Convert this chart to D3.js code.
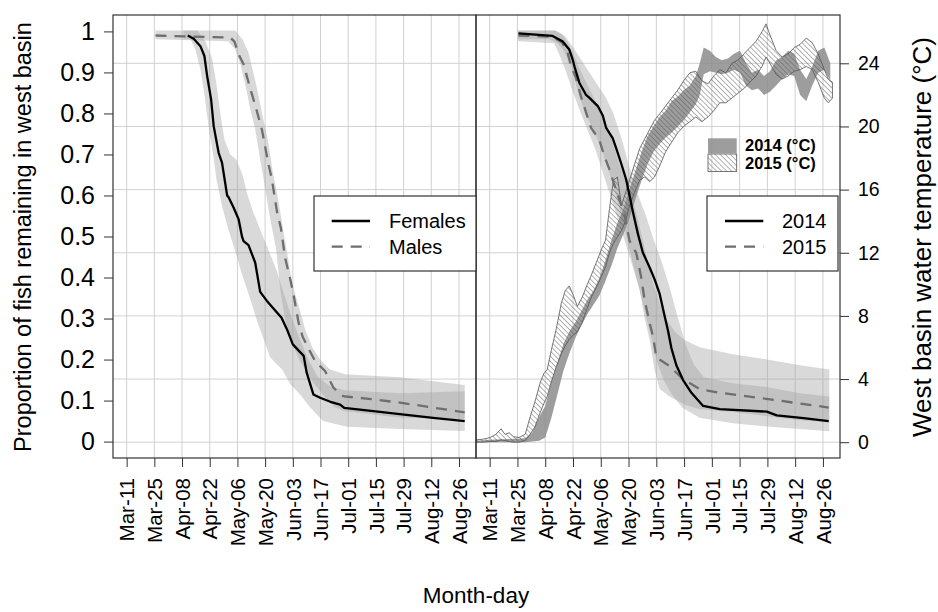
<!DOCTYPE html>
<html><head><meta charset="utf-8">
<script src="https://cdn.jsdelivr.net/npm/d3@7"></script>
<style>
body{margin:0;background:#fff}
svg{display:block}
text{font-family:"Liberation Sans",Arial,Helvetica,sans-serif;fill:#000}
</style>
</head><body>
<svg id="c" width="938" height="612"></svg>
<script>
// ---------- data ----------
const dateLabels = ["Mar-11","Mar-25","Apr-08","Apr-22","May-06","May-20","Jun-03","Jun-17","Jul-01","Jul-15","Jul-29","Aug-12","Aug-26"];
const tickDays = [0,14,28,42,56,70,84,98,112,126,140,154,168]; // days after Mar-11
const propTicks = [0,0.1,0.2,0.3,0.4,0.5,0.6,0.7,0.8,0.9,1];
const propLabels = ["0","0.1","0.2","0.3","0.4","0.5","0.6","0.7","0.8","0.9","1"];
const tempTicks = [0,4,8,12,16,20,24];

// Left panel: sex
const femalesLine = [[30.9,0.99],[33.9,0.982],[37.3,0.964],[39.3,0.94],[40.7,0.891],[42.7,0.834],[44,0.769],[46.5,0.704],[48.2,0.68],[50.8,0.6],[51.6,0.595],[54.1,0.57],[56.6,0.542],[58.3,0.5],[59.1,0.489],[61.6,0.479],[65,0.436],[67.5,0.365],[70.9,0.343],[78.3,0.302],[81,0.274],[84,0.237],[89.5,0.209],[91,0.168],[94.4,0.115],[97.8,0.107],[103,0.097],[107.9,0.09],[110,0.082],[121.3,0.076],[138.1,0.067],[154.9,0.058],[170.9,0.05]];
const malesLine = [[14.6,0.99],[52.4,0.985],[54.5,0.975],[56.6,0.944],[59.1,0.92],[62.5,0.86],[65,0.82],[68.4,0.76],[71.7,0.676],[73.4,0.64],[76,0.56],[78,0.52],[80.1,0.448],[82.7,0.396],[84.3,0.36],[86.9,0.29],[89,0.255],[91.1,0.235],[95.3,0.196],[100.3,0.172],[104.5,0.132],[107.9,0.115],[110,0.11],[121.3,0.105],[138.1,0.095],[154.9,0.083],[170.9,0.071]];
const femalesUpper = [[28.7,1.002],[35.8,1.002],[39.8,0.976],[43.3,0.932],[45.4,0.871],[47.4,0.798],[49.4,0.737],[52.4,0.7],[55.4,0.688],[58.5,0.652],[61,0.603],[63.5,0.566],[67.5,0.517],[71.6,0.468],[75.6,0.42],[79.6,0.359],[83.7,0.298],[87.7,0.249],[91.7,0.2],[96.8,0.157],[102.8,0.135],[110.4,0.125],[138.1,0.118],[170.9,0.123]];
const femalesLower = [[28.7,0.981],[32.3,0.981],[34.8,0.956],[37.3,0.907],[39.3,0.846],[41.3,0.773],[43.9,0.693],[45.4,0.639],[48.4,0.571],[51.4,0.517],[55.9,0.449],[57.5,0.42],[62.5,0.347],[66.5,0.286],[72.6,0.205],[78.6,0.176],[82.7,0.14],[87.7,0.115],[92.7,0.084],[99.3,0.05],[111.4,0.036],[138.1,0.031],[170.9,0.026]];
const malesUpper = [[14.6,1.002],[54.9,1.002],[58.5,0.981],[61.5,0.95],[63.5,0.91],[65.5,0.87],[68.5,0.8],[71.6,0.73],[73.6,0.665],[76.6,0.59],[79.1,0.517],[81.7,0.444],[83.7,0.384],[86.7,0.335],[90.2,0.274],[93.8,0.23],[97.8,0.2],[102.8,0.176],[110.4,0.164],[138.1,0.157],[170.9,0.138]];
const malesLower = [[14.6,0.981],[51.4,0.976],[54.9,0.956],[57.5,0.92],[60.5,0.859],[62.5,0.81],[65,0.761],[67.5,0.688],[70.1,0.615],[72.6,0.542],[75.6,0.469],[77.6,0.371],[80.1,0.298],[82.7,0.249],[87.7,0.196],[93.8,0.147],[100.3,0.108],[105.3,0.084],[110.4,0.074],[138.1,0.059],[170.9,0.054]];

// Right panel: year
const line2014 = [[14.5,0.995],[31.7,0.989],[36.7,0.976],[40.1,0.956],[41.8,0.932],[42.7,0.915],[45.2,0.875],[48.6,0.845],[50.3,0.838],[54.5,0.818],[57,0.795],[58.7,0.765],[62,0.74],[63.8,0.715],[66.3,0.678],[68.8,0.639],[70.5,0.6],[72.2,0.56],[74.7,0.507],[77.2,0.461],[80.6,0.425],[83.1,0.396],[85.7,0.36],[87.3,0.325],[89.9,0.27],[91.6,0.228],[94.1,0.186],[97.5,0.15],[101.7,0.119],[107.6,0.087],[116,0.079],[139.7,0.073],[144.7,0.064],[158.2,0.057],[170.9,0.05]];
const line2015 = [[14.5,0.99],[31.7,0.987],[36.7,0.972],[39.3,0.948],[41,0.915],[43.5,0.887],[46,0.842],[48.6,0.802],[51.1,0.765],[55.3,0.735],[57.8,0.696],[60.4,0.663],[62.9,0.625],[65.4,0.59],[68,0.552],[70.5,0.49],[73.9,0.46],[76.4,0.4],[78.1,0.345],[80.6,0.29],[82.3,0.257],[83.1,0.233],[84,0.205],[90.7,0.184],[97.5,0.152],[105.9,0.128],[116,0.119],[141.3,0.103],[170.9,0.083]];
const band2014Upper = [[14.3,1.002],[33,1.002],[38.1,0.988],[42.2,0.96],[46.2,0.93],[50.3,0.9],[54.3,0.87],[58.4,0.84],[62.4,0.8],[66.4,0.74],[70.4,0.67],[74.5,0.605],[78.5,0.554],[82.6,0.493],[86.6,0.44],[90.7,0.376],[94.8,0.303],[98.8,0.237],[102.9,0.188],[108,0.157],[122.6,0.142],[139.8,0.133],[156.5,0.118],[171.2,0.11]];
const band2014Lower = [[14.3,0.981],[30,0.981],[34.1,0.971],[37.1,0.955],[41.1,0.915],[45.2,0.84],[49.2,0.79],[53.3,0.75],[57.3,0.7],[60.4,0.655],[63.4,0.605],[66.4,0.55],[69.4,0.49],[72.4,0.43],[75.5,0.37],[78.5,0.31],[81.6,0.25],[84.7,0.19],[87.7,0.15],[91.8,0.115],[97.3,0.082],[105.9,0.058],[122.6,0.045],[139.8,0.037],[171.2,0.025]];
const band2015Upper = [[14.3,1.002],[33,1.002],[36.1,0.995],[39.1,0.975],[42.2,0.945],[45.2,0.91],[49.2,0.87],[53.3,0.83],[57.3,0.79],[61.4,0.74],[65.4,0.676],[69.4,0.627],[73.5,0.566],[76.5,0.505],[79.6,0.44],[82.6,0.383],[85.7,0.334],[89.7,0.293],[93.8,0.266],[97.8,0.249],[105.9,0.23],[122.6,0.213],[139.8,0.2],[156.5,0.186],[171.2,0.176]];
const band2015Lower = [[14.3,0.976],[32.5,0.971],[35.1,0.944],[38.1,0.907],[41.1,0.864],[45.2,0.81],[49.2,0.761],[53.3,0.713],[57.3,0.652],[61.4,0.591],[65.4,0.53],[69.4,0.469],[72.5,0.42],[75.6,0.371],[78.1,0.3],[80.6,0.249],[83.1,0.176],[85.7,0.128],[90.7,0.11],[98.8,0.089],[105.9,0.079],[122.6,0.072],[139.8,0.062],[156.5,0.052],[171.2,0.047]];

// West basin water temperature ranges [day, low, high] (°C)
const temp2014 = [[-6.9,0,0.1],[0.2,0,0.15],[9.8,0,0.2],[17.9,0,0.25],[21.4,0.05,0.6],[24.9,0.1,1.6],[28,0.3,2.3],[31,1.5,3.8],[34.1,3.0,5.0],[37.1,4.5,6.2],[40.1,5.6,7.0],[43.2,6.6,7.6],[46.2,7.4,8.3],[49.2,8.1,9.0],[52.3,8.7,9.6],[55.3,9.3,10.4],[58.3,10.2,11.5],[61.4,11.2,12.8],[64.4,12.3,13.9],[67.5,13.2,14.8],[70.5,14.2,16.0],[73.5,15.4,17.2],[76.6,16.6,18.4],[79.6,17.6,19.4],[82.6,18.4,20.0],[85.7,18.9,20.6],[88.7,19.3,21.0],[91.7,19.6,21.6],[94.8,20.0,21.9],[97.8,20.4,22.3],[100.9,20.9,22.6],[103.9,21.4,23.2],[105.9,22.0,24.0],[107.9,23.3,25.0],[111,23.5,24.8],[114,23.4,24.4],[117,23.3,24.2],[120.1,23.4,24.3],[123.1,23.6,24.6],[126.2,23.4,24.8],[129.2,22.6,24.0],[132.2,22.3,23.4],[135.3,22.4,23.6],[138.3,22.0,23.2],[141.3,22.2,23.5],[144.4,22.6,24.2],[147.4,23.0,24.4],[150.5,23.3,24.8],[153.5,23.2,24.6],[156.5,22.0,23.6],[159.6,21.6,23.0],[162.6,22.6,23.8],[165.6,23.4,24.8],[168.7,23.6,25.0],[171.7,22.9,24.0]];
const temp2015 = [[-6.9,0.0,0.15],[-2.9,0.0,0.2],[0.2,0.05,0.3],[3.2,0.05,0.5],[5.7,0.15,0.85],[7.7,0.1,0.5],[9.8,0.05,0.6],[11.9,0.0,0.35],[14.8,0.0,0.3],[17.9,0.1,0.5],[20.4,0.5,1.6],[22.9,1.0,2.6],[25.5,1.9,3.8],[27.5,2.5,4.4],[29,2.9,4.6],[31,3.8,5.8],[33.6,4.8,7.2],[36.1,5.6,8.8],[38.1,6.1,9.6],[40.1,6.5,9.9],[42.2,6.8,9.3],[44.2,7.0,8.6],[46.7,7.6,9.2],[49.2,8.5,10.0],[51.3,9.2,10.6],[53.8,9.8,11.4],[56.3,10.5,12.2],[58.4,11.1,12.8],[60.4,12.0,14.8],[62.4,12.6,16.6],[64.4,13.0,16.8],[66.4,13.4,15.0],[68.5,14.0,15.8],[70.5,15.0,16.6],[73,15.8,17.6],[75.6,16.6,18.6],[78.1,16.8,19.2],[80.6,16.5,19.8],[83.1,16.8,20.4],[85.7,17.5,20.8],[88.7,18.4,21.3],[91.7,19.0,21.8],[94.8,19.6,22.3],[97.8,20.0,22.9],[100.9,20.3,23.4],[103.9,20.6,23.5],[106.9,20.3,22.9],[110,20.6,22.7],[113,21.0,23.2],[116,21.5,23.6],[119.1,21.5,23.4],[122.1,21.8,24.0],[125.1,22.1,24.2],[128.2,22.4,24.6],[131.2,22.8,25.0],[134.3,23.2,25.4],[137.3,23.8,26.0],[139.3,24.4,26.5],[141.3,24.0,25.8],[144.4,23.3,24.8],[147.4,23.0,24.4],[150.5,23.2,24.6],[153.5,23.5,25.0],[156.5,23.6,25.2],[159.6,23.8,25.6],[162.6,23.6,25.3],[165.6,22.8,24.6],[168.7,21.8,23.6],[170.7,21.5,23.0],[172.8,21.8,22.8]];

// ---------- layout ----------
const svg = d3.select("#c");
const yTop = 15, yBot = 458;
const xDomain = [-6.9, 176.6];
const y = d3.scaleLinear().domain([-0.04, 1.04]).range([yBot, yTop]);
const yT = d3.scaleLinear().domain([-1.0, 27.06]).range([yBot, yTop]);
const xL = d3.scaleLinear().domain(xDomain).range([113, 476]);
const xR = d3.scaleLinear().domain(xDomain).range([476, 840]);
const FONT = '"Liberation Sans",Arial,Helvetica,sans-serif';
const bandFill = "#a0a0a0", bandOp = 0.4;
const dashCol = "#6e6e6e";
const DASH = "11,8";

const defs = svg.append("defs");
defs.append("clipPath").attr("id","clipL").append("rect").attr("x",113).attr("y",yTop).attr("width",363).attr("height",yBot-yTop);
defs.append("clipPath").attr("id","clipR").append("rect").attr("x",476).attr("y",yTop).attr("width",364).attr("height",yBot-yTop);
const pat = defs.append("pattern").attr("id","hatch").attr("patternUnits","userSpaceOnUse")
  .attr("width",3.6).attr("height",3.6).attr("patternTransform","rotate(-45)");
pat.append("line").attr("x1",0).attr("y1",0).attr("x2",0).attr("y2",3.6).attr("stroke","#555").attr("stroke-width",0.9);

function grid(xs){
  const g = svg.append("g");
  g.selectAll(".v").data(tickDays).join("line")
    .attr("x1",d=>xs(d)).attr("x2",d=>xs(d)).attr("y1",yTop).attr("y2",yBot)
    .attr("stroke","#d0d0d0").attr("stroke-width",1);
  g.selectAll(".h").data(tempTicks).join("line")
    .attr("x1",xs.range()[0]).attr("x2",xs.range()[1]).attr("y1",d=>yT(d)).attr("y2",d=>yT(d))
    .attr("stroke","#d0d0d0").attr("stroke-width",1);
}
function band(g, xs, upper, lower){
  const pts = upper.concat(lower.slice().reverse());
  g.append("path").attr("d", d3.line().x(p=>xs(p[0])).y(p=>y(p[1]))(pts)+"Z")
    .attr("fill",bandFill).attr("fill-opacity",bandOp).attr("stroke","none");
}
function line(g, xs, data, dashed){
  g.append("path").attr("d", d3.line().x(p=>xs(p[0])).y(p=>y(p[1]))(data))
    .attr("fill","none").attr("stroke", dashed?dashCol:"#000").attr("stroke-width",2.3)
    .attr("stroke-dasharray", dashed?DASH:null).attr("stroke-linejoin","round");
}

grid(xL); grid(xR);

// left panel
const gL = svg.append("g").attr("clip-path","url(#clipL)");
band(gL, xL, femalesUpper, femalesLower);
band(gL, xL, malesUpper, malesLower);
line(gL, xL, malesLine, true);
line(gL, xL, femalesLine, false);

// right panel
const gR = svg.append("g").attr("clip-path","url(#clipR)");
band(gR, xR, band2014Upper, band2014Lower);
band(gR, xR, band2015Upper, band2015Lower);
const tArea = d3.area().x(d=>xR(d[0])).y0(d=>yT(d[1])).y1(d=>yT(d[2]));
gR.append("path").attr("d",tArea(temp2014)).attr("fill","#8c8c8c").attr("fill-opacity",0.85);
gR.append("path").attr("d",tArea(temp2015)).attr("fill","url(#hatch)").attr("stroke","#555").attr("stroke-width",0.8);
line(gR, xR, line2015, true);
line(gR, xR, line2014, false);

// panel boxes
svg.append("rect").attr("x",113).attr("y",yTop).attr("width",363).attr("height",yBot-yTop).attr("fill","none").attr("stroke","#333").attr("stroke-width",1.2);
svg.append("rect").attr("x",476).attr("y",yTop).attr("width",364).attr("height",yBot-yTop).attr("fill","none").attr("stroke","#333").attr("stroke-width",1.2);

// axes
function styleAxis(g, size){
  g.attr("font-family",FONT).attr("font-size",size);
  g.select(".domain").remove();
  g.selectAll(".tick line").attr("stroke","#333");
  g.selectAll(".tick text").attr("fill","#000");
}
const axL = svg.append("g").attr("transform","translate(113,0)")
  .call(d3.axisLeft(y).tickValues(propTicks).tickFormat((d,i)=>propLabels[i]).tickSize(9).tickPadding(9));
styleAxis(axL, 25);
const axR = svg.append("g").attr("transform","translate(840,0)")
  .call(d3.axisRight(yT).tickValues(tempTicks).tickFormat(d=>String(d)).tickSize(9).tickPadding(9));
styleAxis(axR, 19.5);
[xL, xR].forEach(xs=>{
  const ax = svg.append("g").attr("transform",`translate(0,${yBot})`)
    .call(d3.axisBottom(xs).tickValues(tickDays).tickFormat((d,i)=>dateLabels[i]).tickSize(9));
  styleAxis(ax, 20.5);
  ax.selectAll(".tick text").attr("transform","rotate(-90)").attr("x",-20).attr("y",0)
    .attr("dy","0.35em").attr("text-anchor","end");
});

// titles
svg.append("text").attr("transform","translate(31,237) rotate(-90)").attr("text-anchor","middle")
  .attr("font-size",23.5).text("Proportion of fish remaining in west basin");
svg.append("text").attr("transform","translate(931,237) rotate(-90)").attr("text-anchor","middle")
  .attr("font-size",26).text("West basin water temperature (°C)");
svg.append("text").attr("x",476).attr("y",603).attr("text-anchor","middle")
  .attr("font-size",22.5).text("Month-day");

// legends
function legendBox(x0,x1,labels,lx0,lx1,tx){
  svg.append("rect").attr("x",x0).attr("y",196).attr("width",x1-x0).attr("height",75)
    .attr("fill","#fff").attr("stroke","#333").attr("stroke-width",1.2);
  labels.forEach((lab,i)=>{
    const yy = 221 + i*25.7;
    svg.append("line").attr("x1",lx0).attr("x2",lx1).attr("y1",yy).attr("y2",yy)
      .attr("stroke", i?dashCol:"#000").attr("stroke-width",2.3).attr("stroke-dasharray", i?DASH:null);
    svg.append("text").attr("x",tx).attr("y",yy).attr("dy","0.35em").attr("font-size",20).text(lab);
  });
}
legendBox(314,476,["Females","Males"],331.7,370,389);
legendBox(707,838,["2014","2015"],725,763.3,782);

svg.append("rect").attr("x",708).attr("y",138.3).attr("width",28.7).attr("height",15).attr("fill","#8c8c8c").attr("fill-opacity",0.85);
svg.append("rect").attr("x",708).attr("y",154).attr("width",28.7).attr("height",17.5).attr("fill","url(#hatch)").attr("stroke","#555").attr("stroke-width",0.8);
svg.append("text").attr("x",745).attr("y",145.3).attr("dy","0.35em").attr("font-size",16.5).attr("font-weight","bold").text("2014 (°C)");
svg.append("text").attr("x",745).attr("y",163.3).attr("dy","0.35em").attr("font-size",16.5).attr("font-weight","bold").text("2015 (°C)");
</script>
</body></html>
